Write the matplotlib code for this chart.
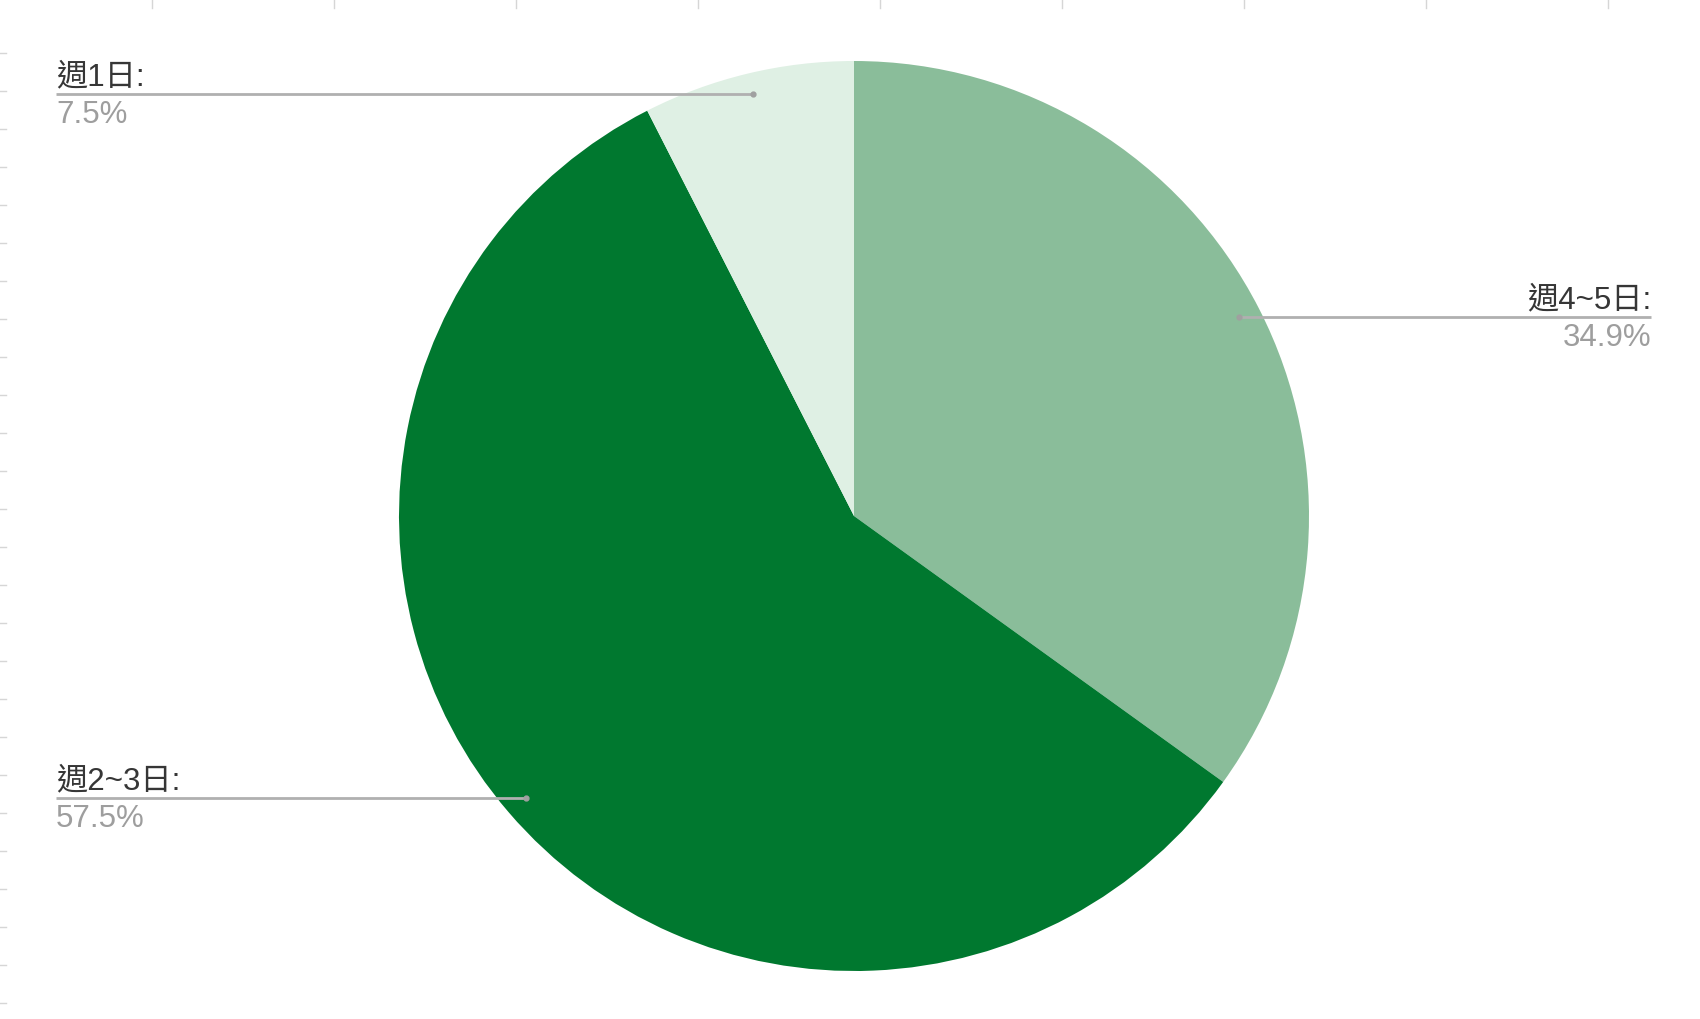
import numpy as np
import matplotlib
matplotlib.use('Agg')
import matplotlib.pyplot as plt

# data
labels = ['週4~5日', '週2~3日', '週1日']
shares = [34.9, 57.5, 7.5]
colors = ['#8abd9a', '#00782f', '#dff0e4']

W, H = 1700, 1020
cx, cy, R = 854, H - 517, 455

fig = plt.figure(figsize=(17, 10.2), dpi=100)
ax = fig.add_axes([0, 0, 1, 1])

ax.pie(shares, colors=colors, startangle=90, counterclock=False,
       center=(cx, cy), radius=R, frame=True,
       wedgeprops=dict(linewidth=0))

# faint spreadsheet cell marks at the edges
for x in np.arange(152, W, 182):
    ax.plot([x, x], [H, H - 9], color='#d6d6d6', lw=1)
for y in np.arange(54, H, 38):
    ax.plot([0, 6], [H - y, H - y], color='#d6d6d6', lw=1)

fam = ['Liberation Sans', 'Noto Sans CJK TC', 'DejaVu Sans']
# label layout: x of text edge, line y (from top), alignment
layout = {
    '週4~5日': (1651, 318, 'right'),
    '週2~3日': (56, 799, 'left'),
    '週1日': (56, 95, 'left'),
}

total = sum(shares)
start = 0.0
for lab, val in zip(labels, shares):
    mid = np.radians((start + val / 2) / total * 360)
    start += val
    px = cx + 0.95 * R * np.sin(mid)
    tx, ly, ha = layout[lab]
    ly = H - ly
    ax.plot([px, tx], [ly, ly], color='#b0b0b0', lw=2, solid_capstyle='butt')
    ax.plot([px], [ly], 'o', color='#a0a0a0', ms=3.5)
    ax.text(tx, ly + 3, lab + ':', ha=ha, va='bottom', fontsize=22.5,
            color='#363636', family=fam)
    ax.text(tx, ly - 5, f'{val}%', ha=ha, va='top', fontsize=22.5,
            color='#9e9e9e', family=fam)

ax.set_xlim(0, W)
ax.set_ylim(0, H)
ax.set_aspect('auto')
ax.set_axis_off()

fig.savefig('out.png', dpi=100, facecolor='white')
